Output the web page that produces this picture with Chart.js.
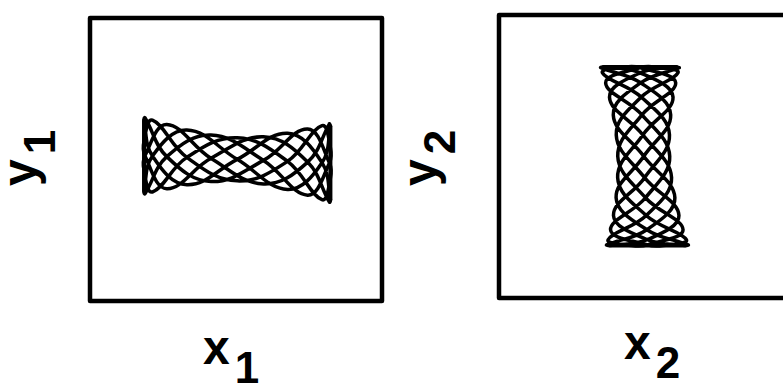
<!DOCTYPE html>
<html>
<head>
<meta charset="utf-8">
<script src="https://cdn.jsdelivr.net/npm/chart.js@4.4.1/dist/chart.umd.min.js"></script>
<style>
  body { margin: 0; background: #fff; overflow: hidden; }
  #wrap { position: relative; width: 783px; height: 386px; overflow: hidden; }
  canvas { position: absolute; }
  .lab { position: absolute; font-family: "Liberation Sans", Arial, sans-serif; font-weight: bold;
         font-size: 48px; line-height: 48px; white-space: nowrap; color: #000; }
  .lab .sub { position: relative; top: 19px; margin-left: 5px; font-size: 44px; }
  .rot { transform-origin: 0 0; transform: rotate(-90deg); }
</style>
</head>
<body>
<div id="wrap">
  <canvas id="panel1" width="312" height="303" style="left:80px;top:8px"></canvas>
  <canvas id="panel2" width="312" height="303" style="left:489px;top:5px"></canvas>
  <div class="lab" style="left:203px;top:324px">x<span class="sub">1</span></div>
  <div class="lab rot" style="left:-4px;top:186px">y<span class="sub">1</span></div>
  <div class="lab" style="left:624px;top:319px">x<span class="sub">2</span></div>
  <div class="lab rot" style="left:396px;top:186px">y<span class="sub">2</span></div>
</div>
<script>
// orbit 1 (x1, y1): turning points and crossings of the trajectory, in order
var x1 = [1.920, 1.940, 1.767, 1.060, 0.025, -1.010, -1.717, -1.890, -1.871, -1.422, -0.515, 0.565, 1.472,
          1.920, 1.940, 1.767, 1.060, 0.025, -1.010, -1.717, -1.890, -1.871, -1.422, -0.515, 0.565, 1.472,
          1.920, 1.940, 1.767, 1.060, 0.025, -1.010, -1.717, -1.890, -1.871, -1.422, -0.515, 0.565, 1.472,
          1.920, 1.940, 1.767, 1.060, 0.025, -1.010, -1.717, -1.890, -1.871, -1.422, -0.515, 0.565, 1.472,
          1.920]
var y1 = [0.758, 0.699, -0.067, -0.634, 0.003, 0.626, 0.073, -0.669, -0.726, 0.061, 0.517, -0.019, -0.756,
          -0.073, 0.246, 0.718, -0.039, -0.453, 0.045, 0.834, 0.390, 0.079, -0.620, 0.025, 0.480, -0.055,
          -0.904, -0.847, -0.067, 0.556, 0.003, -0.536, 0.073, 0.829, 0.884, 0.061, -0.467, -0.019, 0.646,
          -0.073, -0.394, -0.852, -0.039, 0.459, 0.045, -0.688, -0.230, 0.079, 0.742, 0.025, -0.518, -0.055,
          0.758]

// orbit 2 (x2, y2)
var x2 = [0.706, 0.647, -0.098, -0.730, -0.044, 0.546, 0.025, -0.758, -0.271, 0.050, 0.782, 0.010, -0.560, -0.062, 0.631,
          -0.102, -0.414, -0.874, -0.077, 0.503, -0.008, -0.648, 0.046, 0.829, 0.888, 0.037, -0.594, -0.026, 0.528,
          -0.089, -0.910, -0.853, -0.098, 0.576, -0.044, -0.562, 0.025, 0.850, 0.373, 0.050, -0.708, 0.010, 0.508,
          -0.062, -0.809, -0.102, 0.208, 0.678, -0.077, -0.591, -0.008, 0.698, 0.046, -0.727, -0.788, 0.037, 0.614,
          -0.026, -0.652, -0.089, 0.706]
var y2 = [1.883, 1.897, 1.774, 1.260, 0.458, -0.448, -1.250, -1.764, -1.887, -1.873, -1.552, -0.874, 0.005, 0.884, 1.562,
          1.883, 1.897, 1.774, 1.260, 0.458, -0.448, -1.250, -1.764, -1.887, -1.873, -1.552, -0.874, 0.005, 0.884, 1.562,
          1.883, 1.897, 1.774, 1.260, 0.458, -0.448, -1.250, -1.764, -1.887, -1.873, -1.552, -0.874, 0.005, 0.884, 1.562,
          1.883, 1.897, 1.774, 1.260, 0.458, -0.448, -1.250, -1.764, -1.887, -1.873, -1.552, -0.874, 0.005, 0.884, 1.562,
          1.883]

var axisMin = -3
var axisMax = 3

// frame round the plot area
var boxPlugin = {
    id: 'box',
    afterDraw: (chart) => {
        let a = chart.chartArea
        let ctx = chart.ctx
        ctx.save()
        ctx.strokeStyle = '#000'
        ctx.lineWidth = 4.5
        ctx.lineJoin = 'round'
        ctx.strokeRect(a.left, a.top, a.right - a.left, a.bottom - a.top)
        ctx.restore()
    }
}

function line(points, width, tension) {
    return {
        data: points,
        showLine: true,
        borderColor: '#000',
        borderWidth: width,
        borderJoinStyle: 'round',
        borderCapStyle: 'round',
        pointRadius: 0,
        tension: tension
    }
}

function drawPanel(id, xs, ys, rims) {
    let orbit = xs.map((x, i) => ({ x: x, y: ys[i] }))
    let datasets = [line(orbit, 3.5, 0.4)].concat(rims.map(r => line(r, 4, 0)))

    return new Chart(document.getElementById(id), {
        type: 'scatter',
        data: { datasets: datasets },
        options: {
            responsive: false,
            animation: false,
            layout: { padding: 10 },
            plugins: { legend: { display: false }, tooltip: { enabled: false } },
            scales: {
                x: { min: axisMin, max: axisMax, display: false },
                y: { min: axisMin, max: axisMax, display: false }
            }
        },
        plugins: [boxPlugin]
    })
}

// ends of the orbit: the points sitting at the extreme of the long axis
function rimAt(along, across, edge) {
    let v = across.filter((_, i) => along[i] == edge)
    return [Math.min(...v), Math.max(...v)]
}

var left1 = Math.min(...x1), right1 = Math.max(...x1)
var top2 = Math.max(...y2), bottom2 = Math.min(...y2)
var l1 = rimAt(x1, y1, left1), r1 = rimAt(x1, y1, right1)
var t2 = rimAt(y2, x2, top2), b2 = rimAt(y2, x2, bottom2)

drawPanel('panel1', x1, y1, [
    [{ x: left1, y: l1[0] }, { x: left1, y: l1[1] }],
    [{ x: right1, y: r1[0] }, { x: right1, y: r1[1] }]
])
drawPanel('panel2', x2, y2, [
    [{ x: t2[0], y: top2 }, { x: t2[1], y: top2 }],
    [{ x: b2[0], y: bottom2 }, { x: b2[1], y: bottom2 }]
])
</script>
</body>
</html>
